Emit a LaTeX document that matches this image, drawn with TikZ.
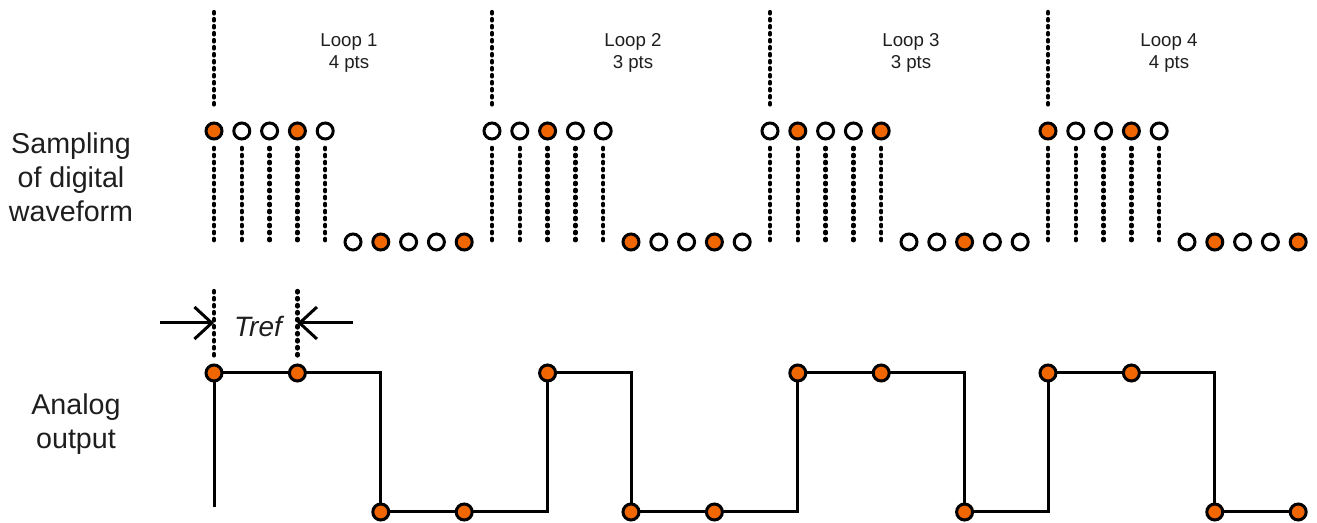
\documentclass[tikz,border=0pt]{standalone}
\usepackage{fontspec}
\setmainfont{Liberation Sans}
\usetikzlibrary{arrows.meta,calc}
\definecolor{orng}{RGB}{240,102,0}
\definecolor{txt}{RGB}{30,30,30}
\begin{document}
\begin{tikzpicture}[x=0.75pt,y=-0.75pt,
 samp/.style={circle,draw=black,line width=2.25pt,minimum size=12pt,inner sep=0pt,fill=white},
 hot/.style={samp,fill=orng},
 dots/.style={line width=3.2pt,line cap=round,dash pattern=on 1.1pt off 4.15pt},
 wave/.style={line width=2.25pt,line join=miter},
 lbl/.style={font=\fontsize{21.5}{25.5}\selectfont,align=center,text=txt},
 looplbl/.style={font=\fontsize{14}{17}\selectfont,align=center,text=txt},
 dim/.style={line width=2.25pt,-{Straight Barb[length=13pt,width=24pt,line width=2.25pt]}}
]
\useasboundingbox (0,0) rectangle (1317,523);

% sampled digital waveform
\foreach \i in {0,...,39}{
  \pgfmathtruncatemacro{\j}{mod(\i,10)}
  \pgfmathtruncatemacro{\h}{mod(\i,3)}
  \pgfmathsetmacro{\xx}{214+27.8*\i}
  \ifnum\j<5 \def\yy{131}\else\def\yy{242}\fi
  \ifnum\h=0 \def\st{hot}\else\def\st{samp}\fi
  \node[\st] (s\i) at (\xx,\yy) {};
}
% dotted lines under the high samples
\foreach \i in {0,...,4,10,11,12,13,14,20,21,22,23,24,30,31,32,33,34}{
  \coordinate (d\i) at ($(s\i)+(0,110)$);
  \draw[dots] ([yshift=-5.5pt]s\i.south) -- (d\i);
}
% loop boundaries
\foreach \i in {0,10,20,30}{
  \coordinate (t\i) at ($(s\i)+(0,-119)$);
  \draw[dots] (t\i) -- ([yshift=10.5pt]s\i.north);
}
% loop labels
\node[looplbl] (L1) at (349,53) {Loop 1\\4 pts};
\node[looplbl] (L2) at (633,53) {Loop 2\\3 pts};
\node[looplbl] (L3) at (911,53) {Loop 3\\3 pts};
\node[looplbl] (L4) at (1169,53) {Loop 4\\4 pts};

% analog output
\foreach \k/\yy in {0/373,3/373,6/512,9/512,12/373,15/512,18/512,21/373,24/373,27/512,30/373,33/373,36/512,39/512}{
  \coordinate (p\k) at (s\k |- 0,\yy);
}
\coordinate (st) at (s0 |- 0,507);
\draw[wave] (st) -- (p0) -- (p3) -- (p6 |- p0) -- (p6) -- (p9) -- (p12 |- p9) -- (p12)
  -- (p15 |- p12) -- (p15) -- (p18) -- (p21 |- p18) -- (p21) -- (p24) -- (p27 |- p24)
  -- (p27) -- (p30 |- p27) -- (p30) -- (p33) -- (p36 |- p33) -- (p36) -- (p39);
\foreach \k in {0,3,...,39}{
  \node[hot] (a\k) at (p\k) {};
}

% Tref
\coordinate (r0) at (s0 |- 0,291);
\coordinate (r3) at (s3 |- 0,291);
\draw[dots] (r0) -- ([yshift=4pt]a0.north);
\draw[dots] (r3) -- ([yshift=4pt]a3.north);
\coordinate (la) at (160,323);
\coordinate (ra) at (353,323);
\draw[dim] (la) -- (r0 |- la);
\draw[dim] (ra) -- (r3 |- ra);
\node[font=\fontsize{21}{25}\selectfont\itshape,text=txt] (tref) at (258,326) {Tref};

% row labels
\node[lbl] (samplbl) at (71,177) {Sampling\\of digital\\waveform};
\node[lbl] (analbl) at (76,424) {Analog\\output};
\end{tikzpicture}
\end{document}
